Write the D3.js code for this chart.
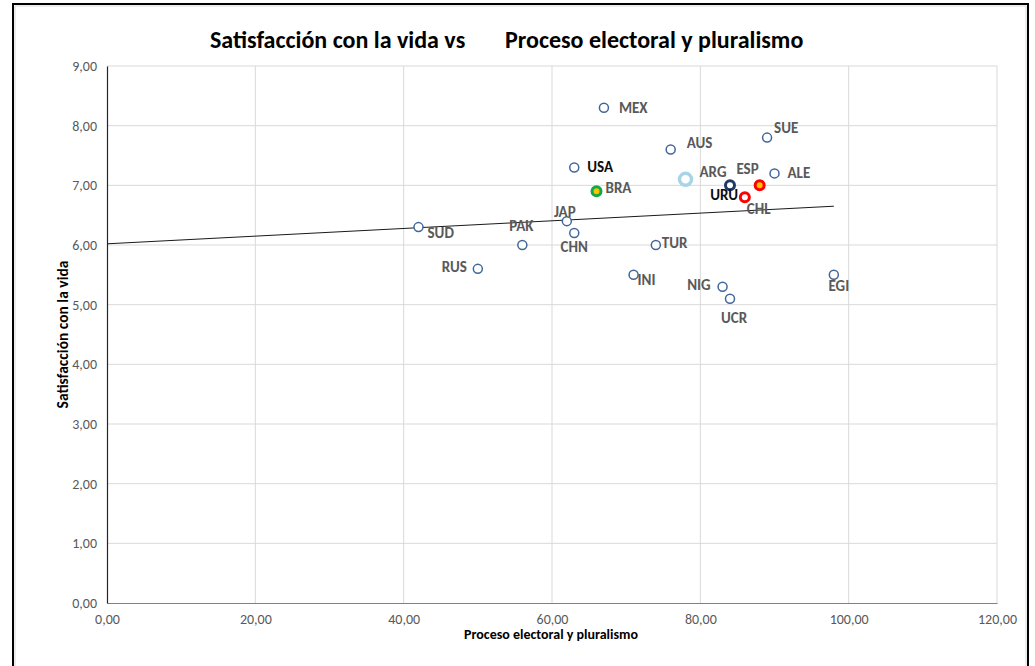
<!DOCTYPE html>
<html>
<head>
<meta charset="utf-8">
<script src="https://cdn.jsdelivr.net/npm/d3@7"></script>
<style>
  body { margin: 0; background: #fff; }
  text { font-family: Calibri, Carlito, Lato, sans-serif; }
</style>
</head>
<body>
<div id="chart"></div>
<script>
// data
const countries = ["MEX", "SUE", "AUS", "USA", "ARG", "URU", "ESP", "ALE", "BRA", "CHL",
  "JAP", "SUD", "PAK", "CHN", "RUS", "INI", "TUR", "NIG", "UCR", "EGI"];
const electoral = [67, 89, 76, 63, 78, 84, 88, 90, 66, 86, 62, 42, 56, 63, 50, 71, 74, 83, 84, 98];
const satisfaction = [8.3, 7.8, 7.6, 7.3, 7.1, 7.0, 7.0, 7.2, 6.9, 6.8, 6.4, 6.3, 6.0, 6.2, 5.6, 5.5, 6.0, 5.3, 5.1, 5.5];
const trendX = [0, 98];
const trendY = [6.02, 6.65];
const xTicks = [0, 20, 40, 60, 80, 100, 120];
const yTicks = [0, 1, 2, 3, 4, 5, 6, 7, 8, 9];

// label placement [dx, dy, anchor] relative to the marker
const labelPos = {
  MEX: [15, 0, "start"], SUE: [7, -10, "start"], AUS: [16, -7, "start"], USA: [13, 0, "start"],
  ARG: [14, -7, "start"], ESP: [-1, -16, "end"], ALE: [13, 0, "start"], URU: [8, 10, "end"],
  BRA: [9, -3, "start"], CHL: [2, 12, "start"], JAP: [-2, -9, "middle"], SUD: [9, 6, "start"],
  PAK: [-1, -19, "middle"], CHN: [0, 14, "middle"], RUS: [-11, -2, "end"], INI: [4, 5, "start"],
  TUR: [6, -2, "start"], NIG: [-12, -2, "end"], UCR: [4, 19, "middle"], EGI: [5, 11, "middle"]
};

// special markers
const markerStyle = {
  ARG: { r: 6, stroke: "#a9d4e6", sw: 3.5, fill: "#fff" },
  URU: { r: 4.5, stroke: "#1f3864", sw: 3, fill: "#fff" },
  ESP: { r: 4.5, stroke: "#ff0000", sw: 3, fill: "#ffc000" },
  BRA: { r: 4.5, stroke: "#12a84a", sw: 3, fill: "#ffc000" },
  CHL: { r: 4.5, stroke: "#ff0000", sw: 3, fill: "#fff" }
};
const defaultMarker = { r: 4.5, stroke: "#41679a", sw: 1.5, fill: "#fff" };
const darkLabels = ["USA", "URU"];

const width = 1035, height = 666;
const plot = { left: 107, right: 997, top: 66, bottom: 603 };

const fmt = d => d.toFixed(2).replace(".", ",");

const svg = d3.select("#chart").append("svg")
  .attr("width", width)
  .attr("height", height);

svg.append("rect")
  .attr("width", width).attr("height", height)
  .attr("fill", "#fff");

// chart border (light inner + black outer)
svg.append("rect")
  .attr("x", 15).attr("y", 6)
  .attr("width", 1011).attr("height", 700)
  .attr("fill", "none")
  .attr("stroke", "#d9d9d9")
  .attr("stroke-width", 1);
svg.append("rect")
  .attr("x", 13).attr("y", 4)
  .attr("width", 1015).attr("height", 700)
  .attr("fill", "none")
  .attr("stroke", "#000")
  .attr("stroke-width", 2);

const x = d3.scaleLinear().domain([0, 120]).range([plot.left, plot.right]);
const y = d3.scaleLinear().domain([0, 9]).range([plot.bottom, plot.top]);

// gridlines
svg.append("g")
  .selectAll("line")
  .data(yTicks.filter(d => d > 0))
  .enter().append("line")
  .attr("x1", plot.left).attr("x2", plot.right)
  .attr("y1", d => y(d)).attr("y2", d => y(d))
  .attr("stroke", "#d9d9d9");

svg.append("g")
  .selectAll("line")
  .data(xTicks.filter(d => d > 0))
  .enter().append("line")
  .attr("x1", d => x(d)).attr("x2", d => x(d))
  .attr("y1", plot.top).attr("y2", plot.bottom)
  .attr("stroke", "#d9d9d9");

// axes
const xAxis = svg.append("g")
  .attr("transform", `translate(0,${plot.bottom})`)
  .call(d3.axisBottom(x).tickValues(xTicks).tickFormat(fmt).tickSize(0).tickPadding(11));
xAxis.select(".domain").attr("stroke", "#808080").attr("stroke-width", 1.2);

const yAxis = svg.append("g")
  .attr("transform", `translate(${plot.left},0)`)
  .call(d3.axisLeft(y).tickValues(yTicks).tickFormat(fmt).tickSize(0).tickPadding(10));
yAxis.select(".domain").attr("stroke", "#262626").attr("stroke-width", 1.2);

svg.selectAll(".tick text")
  .attr("fill", "#595959")
  .style("font-size", "14px")
  .style("font-family", "Calibri, Carlito, Lato, sans-serif");

// trendline
svg.append("path")
  .datum(trendX.map((d, i) => [d, trendY[i]]))
  .attr("fill", "none")
  .attr("stroke", "#1a1a1a")
  .attr("stroke-width", 1)
  .attr("d", d3.line().x(d => x(d[0])).y(d => y(d[1])));

const points = countries.map((c, i) => ({ c, x: electoral[i], y: satisfaction[i] }));

// markers
svg.append("g")
  .selectAll("circle")
  .data(points)
  .enter().append("circle")
  .attr("cx", d => x(d.x))
  .attr("cy", d => y(d.y))
  .attr("r", d => (markerStyle[d.c] || defaultMarker).r)
  .attr("fill", d => (markerStyle[d.c] || defaultMarker).fill)
  .attr("stroke", d => (markerStyle[d.c] || defaultMarker).stroke)
  .attr("stroke-width", d => (markerStyle[d.c] || defaultMarker).sw);

// data labels
svg.append("g")
  .selectAll("text")
  .data(points)
  .enter().append("text")
  .attr("x", d => x(d.x) + labelPos[d.c][0])
  .attr("y", d => y(d.y) + labelPos[d.c][1] + 5)
  .attr("text-anchor", d => labelPos[d.c][2])
  .attr("fill", d => darkLabels.includes(d.c) ? "#0d0d0d" : "#595959")
  .style("font-size", "15px")
  .style("font-weight", "bold")
  .text(d => d.c);

// title
svg.append("text")
  .attr("x", 210).attr("y", 48)
  .style("font-size", "24px").style("font-weight", "bold")
  .attr("fill", "#000")
  .text("Satisfacción con la vida vs");
svg.append("text")
  .attr("x", 505).attr("y", 48)
  .style("font-size", "24px").style("font-weight", "bold")
  .attr("fill", "#000")
  .text("Proceso electoral y pluralismo");

// axis titles
svg.append("text")
  .attr("x", 551).attr("y", 639)
  .attr("text-anchor", "middle")
  .style("font-size", "14px").style("font-weight", "bold")
  .attr("fill", "#000")
  .text("Proceso electoral y pluralismo");

svg.append("text")
  .attr("transform", `translate(68,${(plot.top + plot.bottom) / 2}) rotate(-90)`)
  .attr("text-anchor", "middle")
  .style("font-size", "15.5px").style("font-weight", "bold")
  .attr("fill", "#000")
  .text("Satisfacción con la vida");
</script>
</body>
</html>
